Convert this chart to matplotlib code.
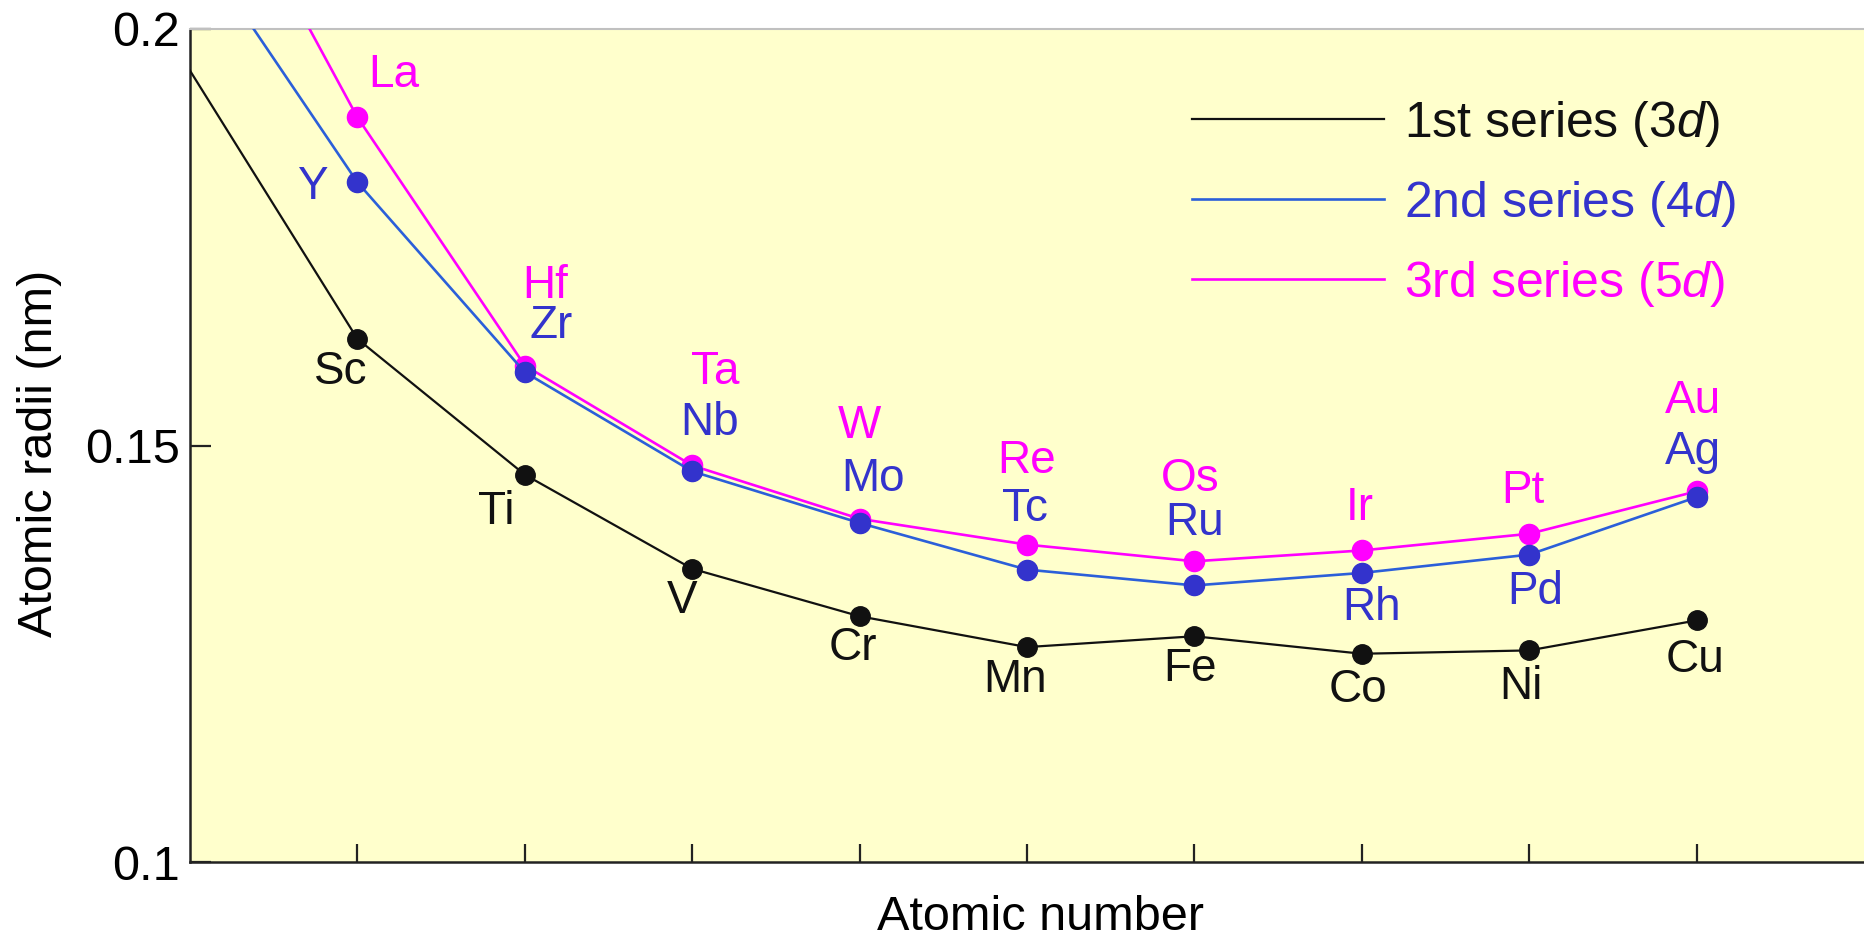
import numpy as np
import matplotlib
matplotlib.use('Agg')
import matplotlib.pyplot as plt

plt.rcParams['font.family'] = ['Liberation Sans', 'DejaVu Sans']
plt.rcParams['mathtext.fontset'] = 'custom'
plt.rcParams['mathtext.rm'] = 'Liberation Sans'
plt.rcParams['mathtext.it'] = 'Liberation Sans:italic'

# position 0 is the group-2 element before each series (Ca, Sr, Ba), no marker
pos = np.arange(0, 10)

sym_3d = ['Sc', 'Ti', 'V', 'Cr', 'Mn', 'Fe', 'Co', 'Ni', 'Cu']
sym_4d = ['Y', 'Zr', 'Nb', 'Mo', 'Tc', 'Ru', 'Rh', 'Pd', 'Ag']
sym_5d = ['La', 'Hf', 'Ta', 'W', 'Re', 'Os', 'Ir', 'Pt', 'Au']

r_3d = [0.195, 0.1628, 0.1465, 0.1352, 0.1295, 0.1258, 0.1271, 0.1250, 0.1254, 0.1290]
r_4d = [0.2113, 0.1816, 0.1588, 0.1469, 0.1407, 0.1351, 0.1332, 0.1347, 0.1369, 0.1438]
r_5d = [0.2265, 0.1894, 0.1596, 0.1476, 0.1412, 0.1381, 0.1361, 0.1374, 0.1394, 0.1445]

series_names = ['1st series (3$\\mathit{d}$)', '2nd series (4$\\mathit{d}$)', '3rd series (5$\\mathit{d}$)']

# label offsets from marker, in pixels
off_3d = [(-17, -33), (-29, -37), (-10, -32), (-7, -32), (-12, -33), (-4, -33), (-4, -36), (-8, -37), (-2, -40)]
off_4d = [(-45, -5), (26, 46), (17, 48), (13, 44), (-2, 61), (0, 62), (10, -35), (6, -37), (-4, 45)]
off_5d = [(36, 42), (20, 80), (23, 93), (0, 93), (0, 84), (-4, 82), (-2, 42), (-6, 43), (-4, 90)]

black = '#111111'
blue_line = '#2b5fd9'
blue_mark = '#3333cc'
magenta = '#ff00ff'

fig = plt.figure(figsize=(18.64, 9.41), dpi=100)
ax = fig.add_axes([190 / 1864, 79 / 941, 1674 / 1864, 833 / 941])
ax.set_facecolor('#ffffcc')

ax.plot(pos, r_3d, color=black, lw=1.6, marker='o', ms=14, mfc=black, mec=black,
        markevery=list(range(1, 10)), label=series_names[0], zorder=3)
ax.plot(pos, r_4d, color=blue_line, lw=1.9, marker='o', ms=14.5, mfc=blue_mark, mec=blue_mark,
        markevery=list(range(1, 10)), label=series_names[1], zorder=4)
ax.plot(pos, r_5d, color=magenta, lw=1.9, marker='o', ms=14.5, mfc=magenta, mec=magenta,
        markevery=list(range(1, 10)), label=series_names[2], zorder=3.5)

for syms, vals, offs, col in [(sym_3d, r_3d, off_3d, black),
                              (sym_4d, r_4d, off_4d, blue_mark),
                              (sym_5d, r_5d, off_5d, magenta)]:
    for i, s in enumerate(syms):
        ax.annotate(s, (pos[i + 1], vals[i + 1]), xytext=offs[i], textcoords='offset pixels',
                    ha='center', va='center', fontsize=33, color=col, zorder=5)

ax.set_xlim(0, 10)
ax.set_ylim(0.1, 0.2)
ax.set_xticks(range(1, 10))
ax.set_xticklabels([])
ax.set_yticks([0.1, 0.15, 0.2])
ax.set_yticklabels(['0.1', '0.15', '0.2'])
ax.tick_params(axis='x', direction='in', length=13, width=1.6, color='#222222')
ax.tick_params(axis='y', direction='in', length=15, width=1.6, color='#222222',
               labelsize=35, pad=7)

for side in ['left', 'bottom']:
    ax.spines[side].set_color('#222222')
    ax.spines[side].set_linewidth(1.8)
ax.spines['top'].set_color('#c0c0c0')
ax.spines['top'].set_linewidth(1.5)
ax.spines['right'].set_visible(False)

ax.set_xlabel('Atomic number', fontsize=35)
ax.set_ylabel('Atomic radii (nm)', fontsize=35)
ax.xaxis.set_label_coords(0.508, -0.0816)
ax.xaxis.label.set_va('baseline')
ax.yaxis.set_label_coords(-0.090, 0.49)
ax.yaxis.label.set_va('center')

leg = ax.legend(loc='upper left', bbox_to_anchor=(0.5986, 0.916), frameon=False,
                fontsize=36, handlelength=3.83, handletextpad=0.40, labelspacing=0.60,
                borderpad=0, borderaxespad=0, labelcolor=[black, blue_mark, magenta])
for h in leg.legend_handles:
    h.set_marker('')

fig.savefig('out.png', dpi=100)
